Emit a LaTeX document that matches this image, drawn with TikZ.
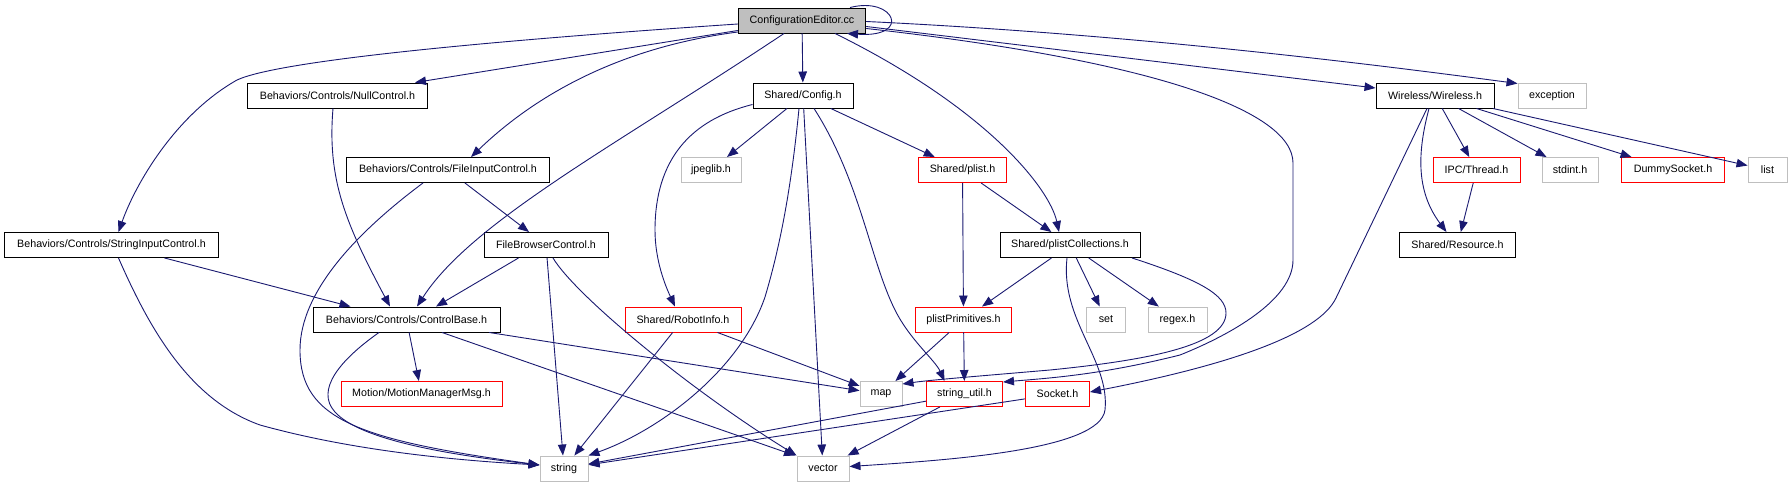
\documentclass[tikz,border=0pt]{standalone}
\usepackage{fontspec}
\setmainfont{Liberation Sans}
\usetikzlibrary{arrows.meta}
\definecolor{edgeblue}{HTML}{191970}
\definecolor{extgray}{HTML}{BFBFBF}
\definecolor{srcgray}{HTML}{BFBFBF}

\begin{document}
\begin{tikzpicture}[x=1pt, y=-1pt,
	hdr/.style={draw=black, fill=white, line width=0.95pt, minimum height=25pt, inner sep=0pt, font=\fontsize{10.7}{12}\selectfont},
	hdrtrunc/.style={hdr, draw=red},
	hdrext/.style={hdr, draw=extgray},
	srcfile/.style={hdr, fill=srcgray},
	dep/.style={draw=edgeblue, line width=0.9pt, -{Triangle[length=11pt,width=8.5pt]}}]
	\useasboundingbox (0,0) rectangle (1791,487);
	
	%source file
	\node (ce) at (802,20.5) [srcfile, minimum width=127.5pt]{ConfigurationEditor.cc};
	
	%row 1
	\node (nullctl) at (337.5,95.5) [hdr, minimum width=180pt]{Behaviors/Controls/NullControl.h};
	\node (config) at (803,95.5) [hdr, minimum width=100pt]{Shared/Config.h};
	\node (wireless) at (1435,95.5) [hdr, minimum width=118pt]{Wireless/Wireless.h};
	\node (exception) at (1552,95.5) [hdrext, minimum width=68pt]{exception};
	
	%row 2
	\node (fileinput) at (448,170) [hdr, minimum width=203pt]{Behaviors/Controls/FileInputControl.h};
	\node (jpeglib) at (711,170) [hdrext, minimum width=60pt]{jpeglib.h};
	\node (plist) at (962.5,170) [hdrtrunc, minimum width=88pt]{Shared/plist.h};
	\node (thread) at (1476.5,170) [hdrtrunc, minimum width=87pt]{IPC/Thread.h};
	\node (stdint) at (1570,170) [hdrext, minimum width=56pt]{stdint.h};
	\node (dummysock) at (1673,170) [hdrtrunc, minimum width=103pt]{DummySocket.h};
	\node (list) at (1767.5,170) [hdrext, minimum width=39pt]{list};
	
	%row 3
	\node (stringinput) at (111.5,245) [hdr, minimum width=214pt]{Behaviors/Controls/StringInputControl.h};
	\node (filebrowser) at (546,245) [hdr, minimum width=124pt]{FileBrowserControl.h};
	\node (plistcoll) at (1070,245) [hdr, minimum width=140pt]{Shared/plistCollections.h};
	\node (resource) at (1457.5,245) [hdr, minimum width=116pt]{Shared/Resource.h};
	
	%row 4
	\node (ctrlbase) at (406.5,319.5) [hdr, minimum width=187pt]{Behaviors/Controls/ControlBase.h};
	\node (robotinfo) at (683,319.5) [hdrtrunc, minimum width=116pt]{Shared/RobotInfo.h};
	\node (plistprim) at (963.5,319.5) [hdrtrunc, minimum width=96pt]{plistPrimitives.h};
	\node (set) at (1106,319.5) [hdrext, minimum width=39pt]{set};
	\node (regex) at (1177.5,319.5) [hdrext, minimum width=59pt]{regex.h};
	
	%row 5
	\node (motionmsg) at (421.5,394) [hdrtrunc, minimum width=161pt]{Motion/MotionManagerMsg.h};
	\node (map) at (881,394) [hdrext, minimum width=42pt]{map};
	\node (strutil) at (964.5,394) [hdrtrunc, minimum width=76pt]{string\_util.h};
	\node (socket) at (1057.5,394) [hdrtrunc, minimum width=64pt]{Socket.h};
	
	%row 6
	\node (string) at (564,468.5) [hdrext, minimum width=48pt]{string};
	\node (vector) at (823,468.5) [hdrext, minimum width=52pt]{vector};
	
	%straight includes
	\foreach \a/\b in {ce/config, config/jpeglib, config/plist, config/vector, plist/plistprim, plist/plistcoll, plistcoll/plistprim, plistcoll/set, plistcoll/regex, plistprim/map, plistprim/strutil, strutil/string, strutil/vector, socket/string, robotinfo/map, robotinfo/string, ctrlbase/motionmsg, ctrlbase/map, filebrowser/string, fileinput/filebrowser, wireless/thread, wireless/stdint, wireless/dummysock, wireless/list, thread/resource}{
		\draw[dep] (\a) -- (\b);
	}
	
	%includes of the source file
	\draw[dep] ([xshift=48pt]ce.north) .. controls (895,-4) and (912,38) .. ([xshift=45pt]ce.south);
	\draw[dep] ([yshift=-3.5pt]ce.west) .. controls (500,40) and (280,60) .. (237,80) .. controls (175,115) and (135,185) .. ([xshift=7pt]stringinput.north);
	\draw[dep] ([yshift=-10pt]ce.west) -- ([xshift=77.5pt]nullctl.north);
	\draw[dep] ([yshift=-11.5pt]ce.west) .. controls (600,50) and (520,110) .. ([xshift=23pt]fileinput.north);
	\draw[dep] ([xshift=-18pt]ce.south) .. controls (620,143) and (472,221) .. ([xshift=10.5pt]ctrlbase.north);
	\draw[dep] ([xshift=33pt]ce.south) .. controls (990,110) and (1050,190) .. ([xshift=-11pt]plistcoll.north);
	\draw[dep] ([yshift=-8pt]ce.east) .. controls (1150,60) and (1293,110) .. (1293,163) -- (1293,260) .. controls (1293,300) and (1230,335) .. (1180,355) .. controls (1100,375) and (1050,378) .. ([yshift=12pt]strutil.east);
	\draw[dep] ([yshift=-6pt]ce.east) -- ([yshift=7.5pt]wireless.west);
	\draw[dep] ([yshift=-1pt]ce.east) .. controls (1150,35) and (1400,68) .. ([yshift=12pt]exception.west);
	
	%Shared/Config.h
	\draw[dep] ([yshift=-9pt]config.west) .. controls (690,120) and (655,160) .. (655,230) .. controls (655,260) and (665,285) .. ([xshift=-8pt]robotinfo.north);
	\draw[dep] ([xshift=-4pt]config.south) .. controls (792,180) and (782,240) .. (765,297) .. controls (740,370) and (660,430) .. (string.north east);
	\draw[dep] ([xshift=11pt]config.south) .. controls (860,180) and (870,260) .. (895,310) .. controls (910,340) and (935,360) .. ([xshift=-20pt]strutil.north);
	
	%Shared/plistCollections.h
	\draw[dep] ([xshift=62pt]plistcoll.south) .. controls (1200,280) and (1226,295) .. (1226,313) .. controls (1226,345) and (1150,360) .. (1050,370) .. controls (980,376) and (930,380) .. ([yshift=10pt]map.east);
	\draw[dep] ([xshift=-3pt]plistcoll.south) .. controls (1060,320) and (1110,360) .. (1105,410) .. controls (1100,450) and (950,460) .. ([yshift=2pt]vector.east);
	
	%Behaviors/Controls
	\draw[dep] ([xshift=-27.5pt]ctrlbase.south) .. controls (340,360) and (315,390) .. (335,412) .. controls (360,440) and (450,455) .. ([yshift=3.5pt]string.west);
	\draw[dep] ([xshift=35.5pt]ctrlbase.south) -- ([xshift=-28pt]vector.north);
	\draw[dep] ([xshift=-27.5pt]filebrowser.south) -- ([xshift=29.5pt]ctrlbase.north);
	\draw[dep] ([xshift=7pt]filebrowser.south) .. controls (575,295) and (690,390) .. (vector.north west);
	\draw[dep] ([xshift=-25pt]fileinput.south) .. controls (360,230) and (300,290) .. (300,350) .. controls (300,420) and (360,440) .. ([yshift=3.5pt]string.west);
	\draw[dep] ([xshift=-4.5pt]nullctl.south) .. controls (327,180) and (346,224) .. ([xshift=-16.5pt]ctrlbase.north);
	\draw[dep] ([xshift=53pt]stringinput.south) -- ([xshift=-56pt]ctrlbase.north);
	\draw[dep] ([xshift=7pt]stringinput.south) .. controls (150,330) and (190,400) .. (260,425) .. controls (350,450) and (450,460) .. ([yshift=3.5pt]string.west);
	
	%Wireless/Wireless.h
	\draw[dep] ([xshift=-6pt]wireless.south) .. controls (1418,150) and (1415,190) .. ([xshift=-11pt]resource.north);
	\draw[dep] ([xshift=-8pt]wireless.south) -- (1336,298) .. controls (1319,334) and (1230,365) .. ([yshift=2pt]socket.east);
	
\end{tikzpicture}
\end{document}
